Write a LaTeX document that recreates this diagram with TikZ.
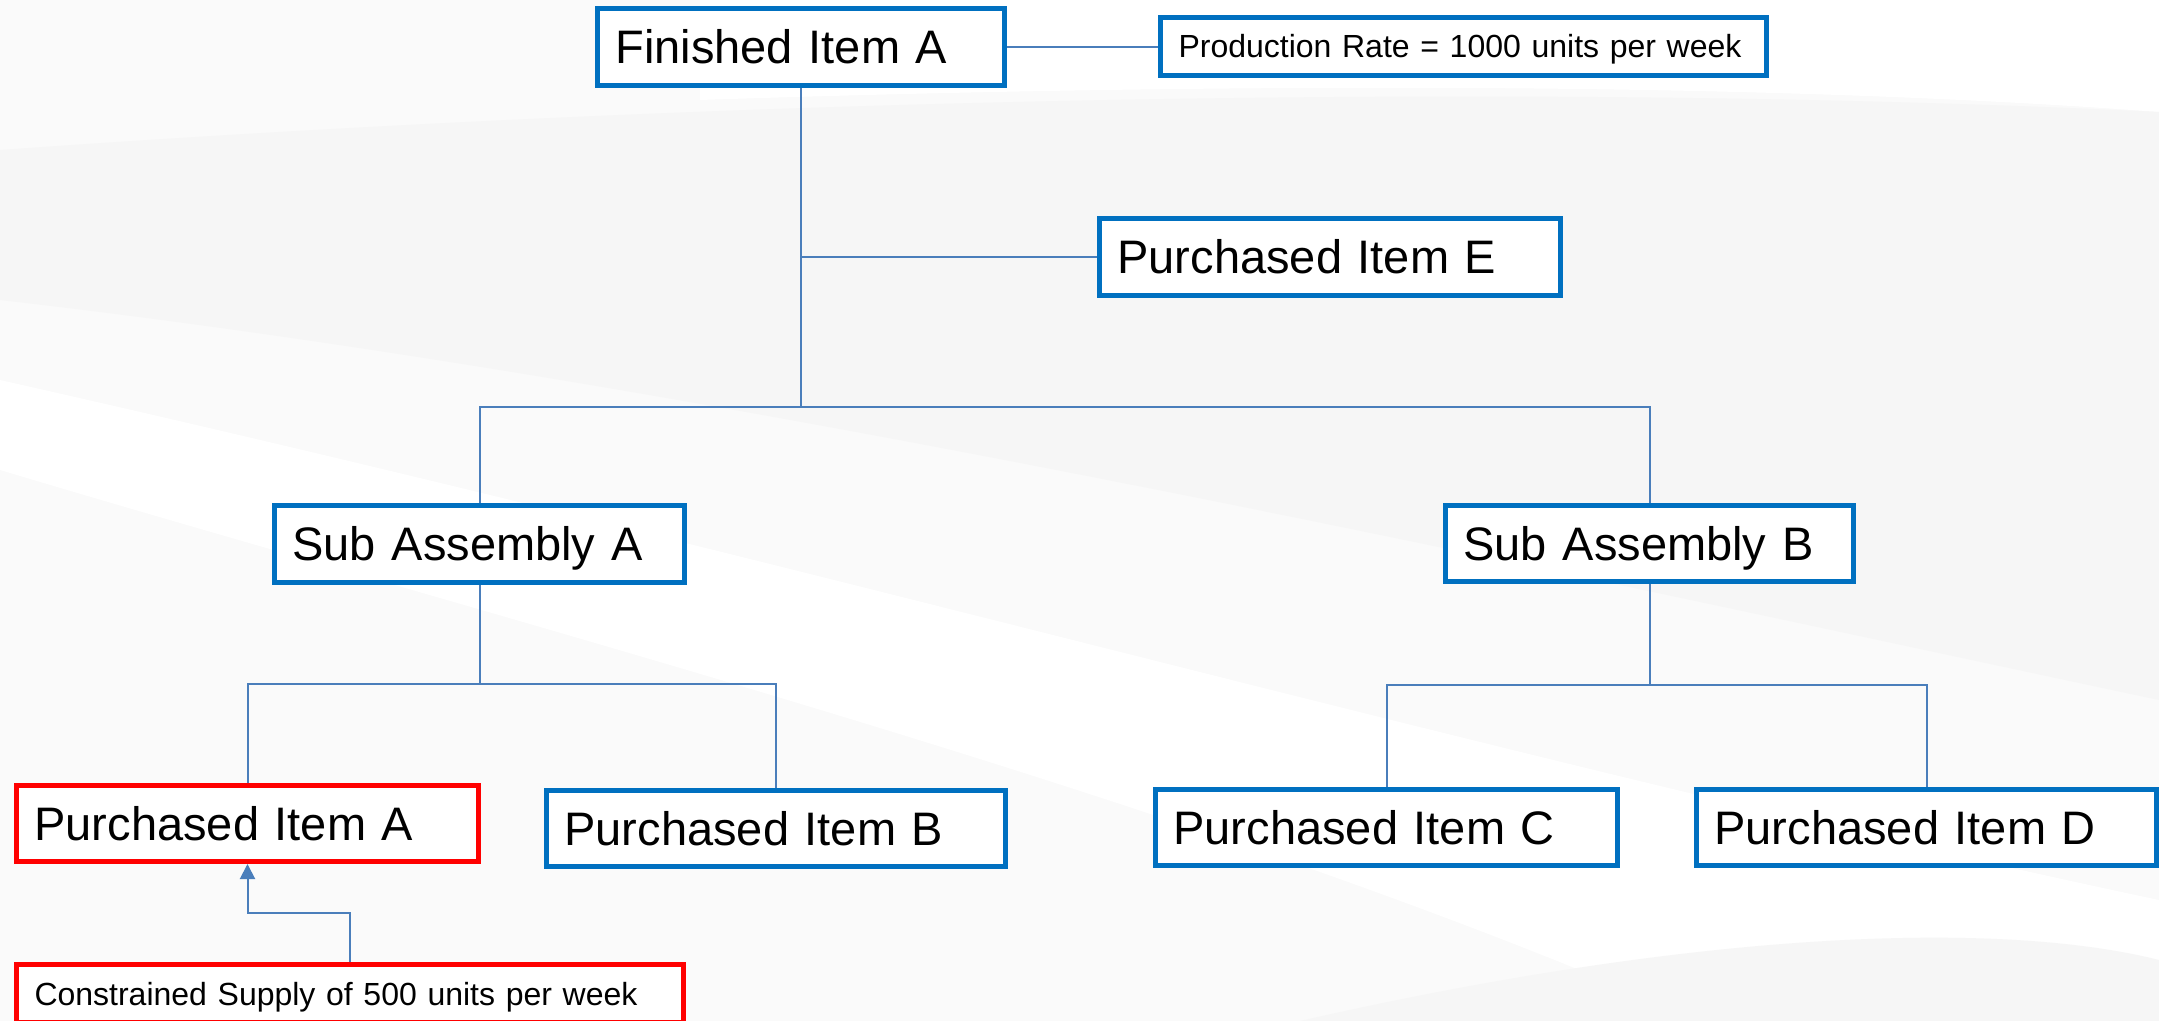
\documentclass[tikz,border=0pt]{standalone}
\usepackage{fontspec}
\setmainfont{Liberation Sans}
\usetikzlibrary{arrows.meta}
\definecolor{boxblue}{HTML}{0070C0}
\definecolor{boxred}{HTML}{FF0000}
\definecolor{connblue}{HTML}{4A7EBB}
\definecolor{bggray}{HTML}{F6F6F6}
\definecolor{bggraylt}{HTML}{FAFAFA}
\tikzset{
  itembox/.style={draw=boxblue, line width=2.5pt, fill=white, inner xsep=9pt, inner ysep=0pt,
    align=left, font=\fontsize{23.5}{28}\selectfont, text height=16.8pt, text depth=0pt,
    minimum height=38.5pt},
  notebox/.style={itembox, font=\fontsize{16}{19}\selectfont, text height=11.5pt, minimum height=29pt},
  redbox/.style={draw=boxred},
  conn/.style={draw=connblue, line width=1pt},
  supplyarrow/.style={conn, -{Triangle[length=7.5pt,width=7.5pt]}}
}
\begin{document}
\begin{tikzpicture}[x=0.5pt, y=-0.5pt]
\useasboundingbox (0,0) rectangle (2159,1021);
% background
\fill[white] (0,0) rectangle (2159,1021);
\fill[bggraylt] (0,0) rectangle (2159,1021);
\fill[white] (700,0) -- (2159,0) -- (2159,112) .. controls (1800,85) and (1300,80) .. (700,100) -- cycle;
\fill[bggray] (0,150) .. controls (700,100) and (1500,80) .. (2159,112) -- (2159,700)
  .. controls (1500,560) and (700,380) .. (0,300) -- cycle;
\fill[white] (0,470) .. controls (500,620) and (1200,800) .. (1700,1021) -- (2159,1021) -- (2159,900)
  .. controls (1500,760) and (800,560) .. (0,380) -- cycle;
\fill[bggray] (1300,1021) .. controls (1700,930) and (2000,920) .. (2159,960) -- (2159,1021) -- cycle;

% nodes
\node[itembox, text width=185.5pt] (fina) at (801,47) {Finished Item A};
\node[notebox, text width=285pt] (prod) at (1463.5,46.5) {Production Rate = 1000 units per week};
\node[itembox, text width=212.5pt] (pure) at (1330,257) {Purchased Item E};
\node[itembox, text width=187pt] (suba) at (479.5,544) {Sub Assembly A};
\node[itembox, text width=186pt, minimum height=38pt] (subb) at (1649.5,543.5) {Sub Assembly B};
\node[itembox, redbox, text width=213pt, minimum height=38pt] (pura) at (247.5,823.5) {Purchased Item A};
\node[itembox, text width=211.5pt, minimum height=38pt] (purb) at (776,828.5) {Purchased Item B};
\node[itembox, text width=213pt, minimum height=38pt] (purc) at (1386.5,827.5) {Purchased Item C};
\node[itembox, text width=212pt, minimum height=38pt] (purd) at (1926.5,827.5) {Purchased Item D};
\node[notebox, redbox, text width=315.5pt] (constr) at (350,993.5) {Constrained Supply of 500 units per week};

% junctions
\coordinate (j1) at (801,407);
\coordinate (j2) at (479.5,684);
\coordinate (j3) at (1649.5,685);

% connectors
\draw[conn] (fina.east) -- (prod.west |- fina.east);
\draw[conn] (fina.south) -- (j1);
\draw[conn] (fina.south |- pure.west) -- (pure.west);
\draw[conn] (suba.north) |- (j1) -| (subb.north);
\draw[conn] (suba.south) -- (j2);
\draw[conn] (pura.north) |- (j2) -| (purb.north);
\draw[conn] (subb.south) -- (j3);
\draw[conn] (purc.north) |- (j3) -| (purd.north);
\draw[supplyarrow] (constr.north) -- ++(0,-49) -| (pura.south);
\end{tikzpicture}
\end{document}
